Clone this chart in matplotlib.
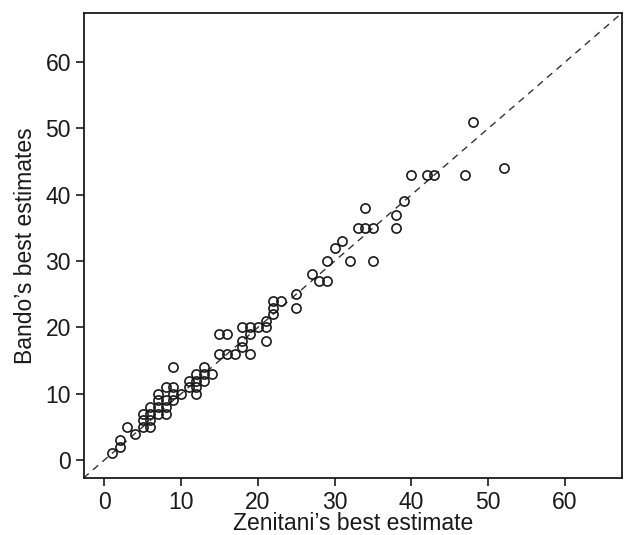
import matplotlib
matplotlib.use("Agg")
import matplotlib.pyplot as plt

plt.rcParams['font.family'] = ['Liberation Sans', 'DejaVu Sans']

# --- estimates (Zenitani vs Bando) ---
zenitani = [1, 2, 2, 3, 4,
            5, 5, 5, 6, 6, 6, 6,
            7, 7, 7, 7, 8, 8, 8, 8,
            9, 9, 9, 9, 10, 11, 11,
            12, 12, 12, 12, 13, 13, 13, 14,
            15, 16, 17, 15, 16,
            18, 19, 20, 21, 18, 18, 19, 19, 21, 21,
            22, 22, 22, 23, 25, 25,
            27, 28, 29, 29, 30, 31, 32,
            33, 34, 35, 34, 35, 38, 38, 39,
            40, 42, 43, 47, 48, 52]
bando = [1, 2, 3, 5, 4,
         5, 6, 7, 5, 6, 7, 8,
         7, 8, 9, 10, 7, 8, 9, 11,
         9, 10, 11, 14, 10, 11, 12,
         10, 11, 12, 13, 12, 13, 14, 13,
         16, 16, 16, 19, 19,
         20, 20, 20, 20, 18, 17, 19, 16, 18, 21,
         22, 23, 24, 24, 25, 23,
         28, 27, 27, 30, 32, 33, 30,
         35, 35, 35, 38, 30, 35, 37, 39,
         43, 43, 43, 43, 51, 44]

lim = (-2.7, 67.4)
ticks = [0, 10, 20, 30, 40, 50, 60]

fig = plt.figure(figsize=(6.25, 5.35), dpi=100)
ax = fig.add_axes([0.1336, 0.1065, 0.8614, 0.8692])

# line of equality, corner to corner
ax.plot(lim, lim, linestyle=(0, (5, 4)), color='#333333', lw=1.0, zorder=1)
ax.plot(zenitani, bando, linestyle='none', marker='o', ms=6.6,
        mfc='none', mec='#1a1a1a', mew=1.2, zorder=2)

ax.set_xlim(lim)
ax.set_ylim(lim)
ax.set_xticks(ticks)
ax.set_yticks(ticks)
ax.tick_params(direction='out', length=6, width=1.2, labelsize=16.5,
               colors='#1a1a1a', pad=3)
for s in ax.spines.values():
    s.set_linewidth(1.3)
    s.set_color('#1a1a1a')

ax.set_xlabel('Zenitani\u2019s best estimate', fontsize=16.5, color='#1a1a1a', labelpad=-1)
ax.set_ylabel('Bando\u2019s best estimates', fontsize=16.5, color='#1a1a1a', labelpad=6)

fig.savefig('out.png', dpi=100)
